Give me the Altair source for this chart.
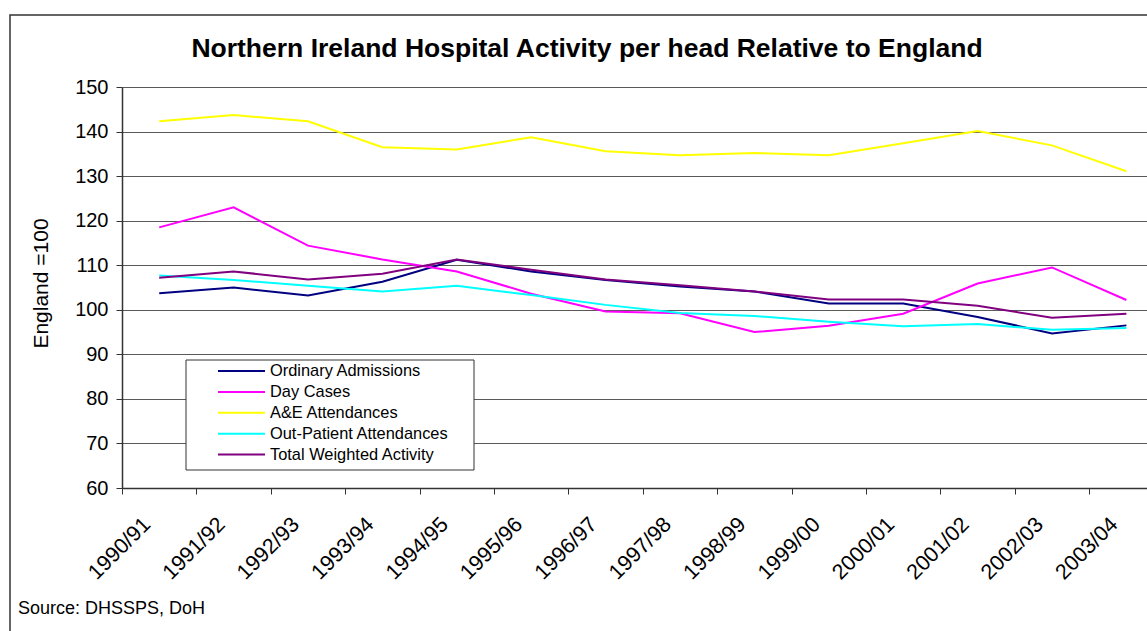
import altair as alt
import pandas as pd

# ---------------- data ----------------
years = ["1990/91", "1991/92", "1992/93", "1993/94", "1994/95", "1995/96", "1996/97",
         "1997/98", "1998/99", "1999/00", "2000/01", "2001/02", "2002/03", "2003/04"]
ordinary = [103.7, 105.0, 103.2, 106.3, 111.2, 108.6, 106.7, 105.2, 104.1, 101.4, 101.4, 98.4, 94.7, 96.5]
day_cases = [118.5, 123.0, 114.4, 111.3, 108.6, 103.6, 99.6, 99.2, 95.0, 96.4, 99.1, 105.9, 109.5, 102.2]
ae = [142.3, 143.7, 142.3, 136.5, 136.0, 138.7, 135.6, 134.7, 135.2, 134.7, 137.4, 140.1, 136.9, 131.1]
outpatient = [107.7, 106.7, 105.4, 104.1, 105.4, 103.3, 101.1, 99.3, 98.6, 97.3, 96.3, 96.8, 95.5, 95.9]
total = [107.2, 108.6, 106.8, 108.1, 111.3, 109.0, 106.8, 105.5, 104.1, 102.3, 102.3, 100.9, 98.2, 99.1]

series_names = ["Ordinary Admissions", "Day Cases", "A&E Attendances",
                "Out-Patient Attendances", "Total Weighted Activity"]
series_values = [ordinary, day_cases, ae, outpatient, total]
series_colors = ["#000080", "#FF00FF", "#FFFF00", "#00FFFF", "#800080"]

TITLE = "Northern Ireland Hospital Activity per head Relative to England"
Y_TITLE = "England =100"
SOURCE = "Source: DHSSPS, DoH"

rows = []
for name, vals in zip(series_names, series_values):
    for i, (yr, v) in enumerate(zip(years, vals)):
        rows.append({"series": name, "idx": i, "year": yr, "value": v})
df = pd.DataFrame(rows)
one = pd.DataFrame({"k": [0]})

# ---------------- layout ----------------
W, H = 1025, 401
UNIT = 74.4
XMIN = -0.5
XMAX = XMIN + W / UNIT
FONT = "Liberation Sans"

label_expr = "[" + ",".join(f"'{y}'" for y in years) + "][datum.value]"

x_enc = alt.X(
    "idx:Q",
    scale=alt.Scale(domain=[XMIN, XMAX], nice=False, zero=False),
    axis=alt.Axis(
        values=list(range(len(years))), labelExpr=label_expr, title=None,
        labelAngle=315, labelAlign="right", labelBaseline="middle",
        labelOffset=25, labelPadding=27, labelFontSize=21.5, labelColor="#000",
        labelOverlap=False, labelFlush=False,
        tickOffset=-UNIT / 2, tickSize=6, tickColor="#333", ticks=True,
        domainColor="#333", domainWidth=1.5, grid=False,
    ),
)
y_enc = alt.Y(
    "value:Q",
    scale=alt.Scale(domain=[60, 150], nice=False, zero=False),
    axis=alt.Axis(
        values=list(range(60, 151, 10)), title=Y_TITLE,
        titleFontSize=21, titleFontWeight="normal", titleColor="#000",
        titleAngle=270, titleX=-75, titleY=196, titleAlign="center",
        titleBaseline="alphabetic",
        labelFontSize=20, labelColor="#000", labelPadding=8, labelFlush=False,
        tickSize=6, tickColor="#333", domainColor="#333", domainWidth=1.5,
        grid=True, gridColor="#5a5a5a", gridWidth=1,
    ),
)

layers = []

# outer chart border
layers.append(
    alt.Chart(one).mark_rect(fillOpacity=0, stroke="#333", strokeWidth=1.5).encode(
        x=alt.value(-112), x2=alt.value(1200), y=alt.value(-72), y2=alt.value(700)
    )
)

# series lines (drawn in series order so later series sit on top)
for name, color in zip(series_names, series_colors):
    layers.append(
        alt.Chart(df[df["series"] == name]).mark_line(color=color, strokeWidth=2).encode(
            x=x_enc, y=y_enc
        )
    )

# legend box
LX0, LX1, LY0, LY1 = 64, 352, 273, 383
layers.append(
    alt.Chart(one).mark_rect(fill="white", stroke="#333", strokeWidth=1).encode(
        x=alt.value(LX0), x2=alt.value(LX1), y=alt.value(LY0), y2=alt.value(LY1)
    )
)
for i, (name, color) in enumerate(zip(series_names, series_colors)):
    ry = 284 + 20.9 * i
    layers.append(
        alt.Chart(one).mark_rule(color=color, strokeWidth=2).encode(
            x=alt.value(96), x2=alt.value(143), y=alt.value(ry)
        )
    )
    layers.append(
        alt.Chart(one).mark_text(text=name, align="left", baseline="middle",
                                 fontSize=16.4, font=FONT, color="#000").encode(
            x=alt.value(148), y=alt.value(ry)
        )
    )

# title and source
layers.append(
    alt.Chart(one).mark_text(text=TITLE, align="center", baseline="alphabetic",
                             fontSize=26.5, fontWeight="bold", font=FONT, color="#000").encode(
        x=alt.value(465), y=alt.value(-30)
    )
)
layers.append(
    alt.Chart(one).mark_text(text=SOURCE, align="left", baseline="alphabetic",
                             fontSize=18, font=FONT, color="#000").encode(
        x=alt.value(-104), y=alt.value(527)
    )
)

chart = (
    alt.layer(*layers)
    .properties(
        width=W, height=H,
        autosize=alt.AutoSizeParams(type="none"),
        padding={"left": 122, "top": 87, "right": 0, "bottom": 631 - 87 - H},
        background="white",
    )
    .configure(font=FONT)
    .configure_view(stroke=None)
)

chart.save("out.html", embed_options={"renderer": "svg", "actions": False})
